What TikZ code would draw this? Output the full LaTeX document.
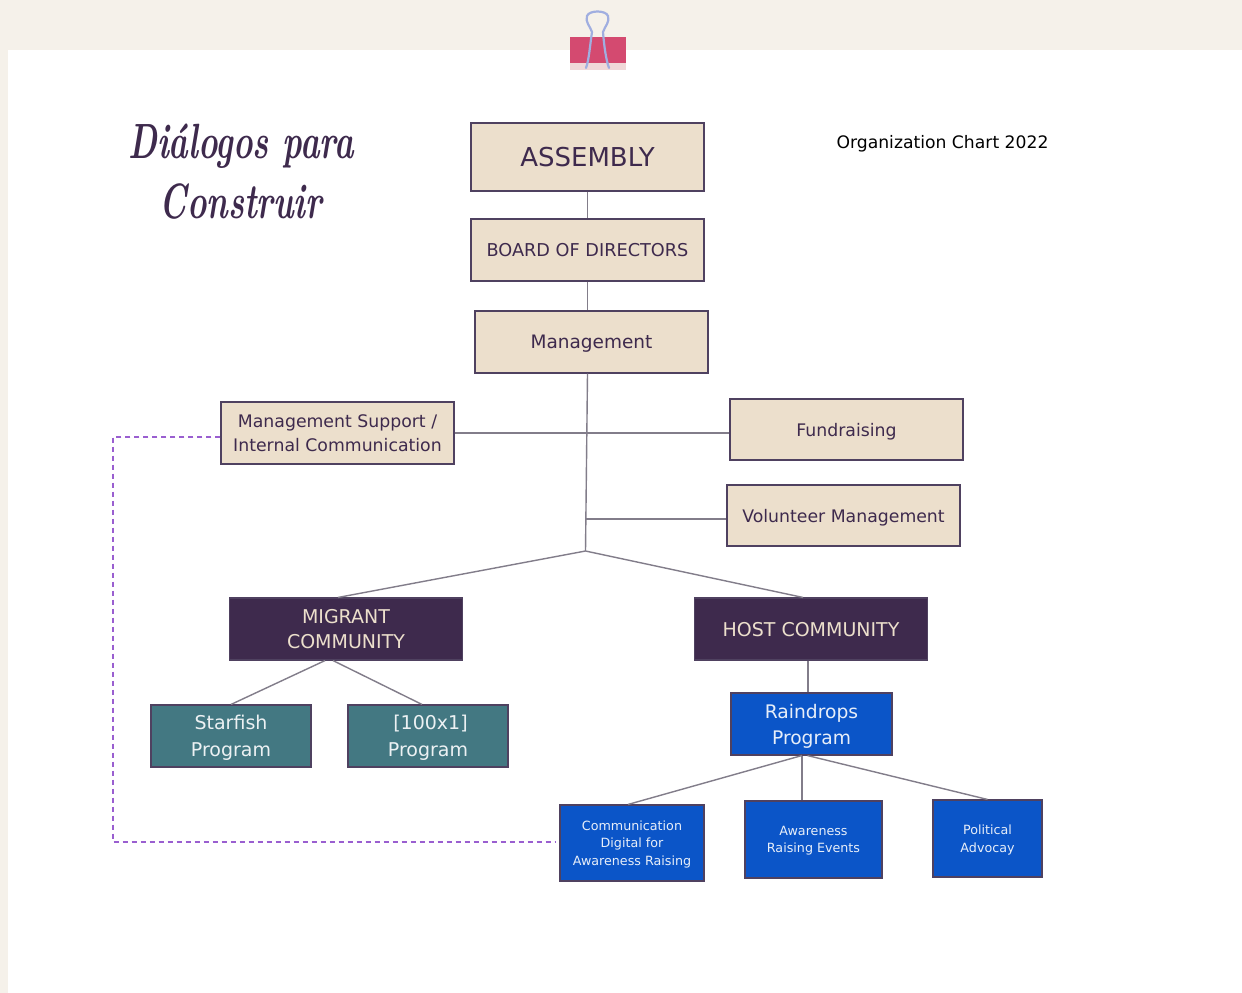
\documentclass[tikz,border=0pt]{standalone}
\usepackage{xcolor}
\usepackage{fontspec}
\setmainfont{DejaVu Sans}
\newfontfamily\titlefont{Latin Modern Roman}
\definecolor{paper}{HTML}{F5F1EA}
\definecolor{sand}{HTML}{ECDFCC}
\definecolor{plum}{HTML}{3E2A4D}
\definecolor{edge}{HTML}{4F4160}
\definecolor{teal2}{HTML}{437882}
\definecolor{royal}{HTML}{0B55C8}
\definecolor{linkgrey}{HTML}{827D8A}
\definecolor{dashpurple}{HTML}{9A5FD0}
\definecolor{tape}{HTML}{D44A70}
\definecolor{wire}{HTML}{A0AEE0}
\newcommand{\fs}[2]{\fontsize{#1}{#2}\selectfont}

\begin{document}
\begin{tikzpicture}[x=1pt, y=-1pt,
    box/.style = {shape=rectangle, draw=edge, line width=1.1pt, align=center, inner sep=0pt, text depth=0pt},
    sandbox/.style = {box, fill=sand, text=plum, minimum width=233pt, minimum height=62pt, font=\fs{17.3}{24}},
    darkbox/.style = {box, fill=plum, text=sand, minimum width=233pt, minimum height=62pt, font=\fs{19}{25.5}},
    tealbox/.style = {box, fill=teal2, text=white!90!teal2, minimum width=160pt, minimum height=62pt, font=\fs{19}{27}},
    bluebox/.style = {box, fill=royal, text=white!90!royal, font=\fs{12.7}{17.5}},
    link/.style = {draw=linkgrey, line width=1.4pt},
    dashlink/.style = {draw=dashpurple, line width=1.6pt, dash pattern=on 5.5pt off 3.5pt}]
    \useasboundingbox (0,0) rectangle (1242,993);
    \fill[paper] (0,0) rectangle (1242,993);
    \fill[white] (8,50) rectangle (1242,993);

    % binder clip
    \fill[paper!85!tape] (570,62) rectangle (626,70);
    \fill[tape] (570,37) rectangle (626,63);
    \draw[wire, line width=2.2pt, line cap=round]
      (586,68) .. controls (589,60) and (590,45) .. (592,32)
      .. controls (590,26) and (585,22) .. (587,16)
      .. controls (589,10) and (606,10) .. (608,16)
      .. controls (610,22) and (605,26) .. (603,32)
      .. controls (604,45) and (606,60) .. (609,68);

    % title and caption
    \node[align=center, text=plum, font=\titlefont\itshape\bfseries\fs{33}{60}] (title) at (241,172)
      {\scalebox{1}[1.5]{Di\'alogos para}\\\scalebox{1}[1.5]{Construir}};
    \node[text=black, font=\fs{17.2}{20}] (caption) at (942.5,144) {Organization Chart 2022};

    % upper boxes
    \node[sandbox, minimum height=68pt, font=\fs{26}{30}] (assembly) at (587.5,157) {ASSEMBLY};
    \node[sandbox, font=\fs{17.7}{24}] (board) at (587.5,250) {BOARD OF DIRECTORS};
    \node[sandbox, font=\fs{18.5}{24}] (management) at (591.5,342) {Management};
    \node[sandbox] (support) at (337.5,433) {Management Support /\\Internal Communication};
    \node[sandbox, minimum height=61pt] (fundraising) at (846.5,429.5) {Fundraising};
    \node[sandbox, minimum height=61pt] (volunteer) at (843.5,515.5) {Volunteer Management};

    % communities
    \node[darkbox] (migrant) at (346,629) {MIGRANT\\COMMUNITY};
    \node[darkbox] (host) at (811,629) {HOST COMMUNITY};

    % programs
    \node[tealbox] (starfish) at (231,736) {Starfish\\Program};
    \node[tealbox] (hundred) at (428,736) {\hspace*{5pt}[100x1]\\Program};
    \node[box, fill=royal, text=white!90!royal, minimum width=161pt, minimum height=62pt, font=\fs{18.7}{26}] (raindrops) at (811.5,724) {Raindrops\\Program};
    \node[bluebox, minimum width=144pt, minimum height=76pt] (digital) at (632,843) {Communication\\Digital for\\Awareness Raising};
    \node[bluebox, minimum width=137pt, minimum height=77pt] (awareness) at (813.5,839.5) {Awareness\\Raising Events};
    \node[bluebox, minimum width=109pt, minimum height=77pt] (political) at (987.5,838.5) {Political\\Advocay};

    \coordinate (hub) at (585.5,551);
    \coordinate (tap) at (586,519);
    \coordinate (rainfoot) at (802,755.5);
    \coordinate (dashleft) at (113,437);
    \coordinate (dashfoot) at (113,842);

    % connectors
    \draw[link] (assembly) -- (board);
    \draw[link] (board.south) -- (board.south |- management.north);
    \draw[link] (board.south |- management.south) -- (hub);
    \draw[link] (support.east) -- (support.east -| fundraising.west);
    \draw[link] (tap) -- (tap -| volunteer.west);
    \draw[link] (hub) -- ([xshift=-8pt]migrant.north);
    \draw[link] (hub) -- ([xshift=-8pt]host.north);
    \draw[link] ([xshift=-21pt]migrant.south) -- (starfish.north);
    \draw[link] ([xshift=-13pt]migrant.south) -- ([xshift=-6pt]hundred.north);
    \draw[link] ([xshift=-3pt]host.south) -- ([xshift=-3.5pt]raindrops.north);
    \draw[link] (rainfoot) -- ([xshift=-4pt]digital.north);
    \draw[link] (rainfoot) -- (rainfoot |- awareness.north);
    \draw[link] ([xshift=-4pt]raindrops.south) -- (political.north);
    \draw[dashlink] (support.west |- dashleft) -- (dashleft) -- (dashfoot) -- ([xshift=-3pt]digital.west |- dashfoot);
\end{tikzpicture}
\end{document}
